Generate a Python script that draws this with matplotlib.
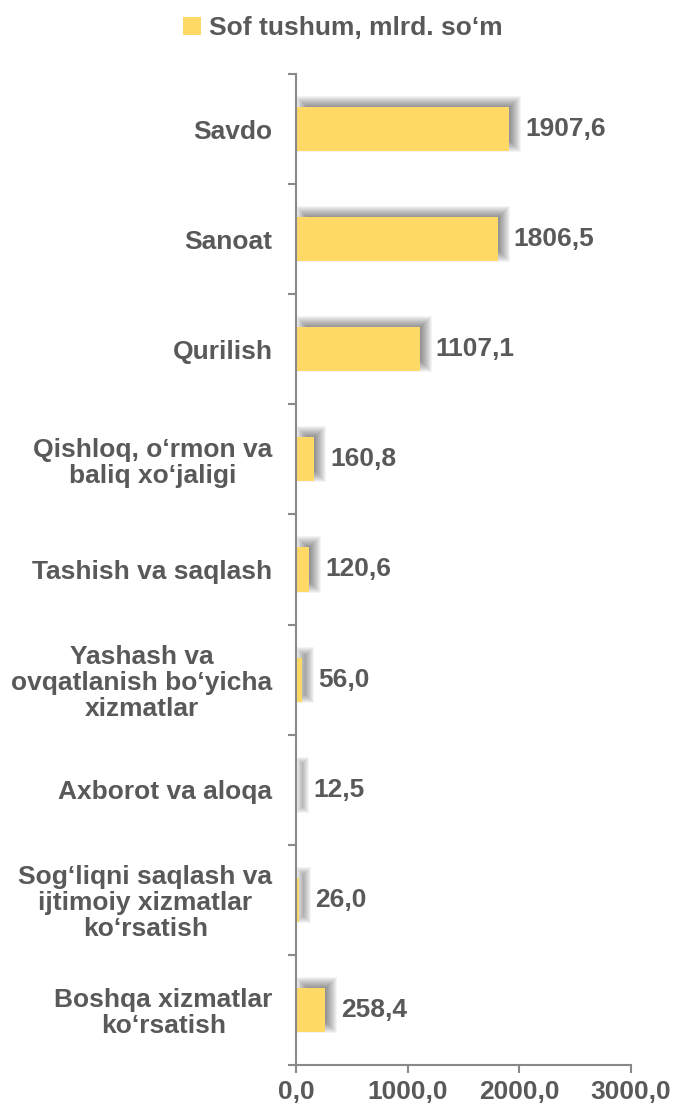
import matplotlib
matplotlib.use("Agg")
import matplotlib.pyplot as plt
from matplotlib.patches import Rectangle, Patch
from matplotlib.ticker import FixedLocator, FuncFormatter

categories = [
    "Savdo",
    "Sanoat",
    "Qurilish",
    "Qishloq, o\u2018rmon va\nbaliq xo\u2018jaligi",
    "Tashish va saqlash",
    "Yashash va\novqatlanish bo\u2018yicha\nxizmatlar",
    "Axborot va aloqa",
    "Sog\u2018liqni saqlash va\nijtimoiy xizmatlar\nko\u2018rsatish",
    "Boshqa xizmatlar\nko\u2018rsatish",
]
values = [1907.6, 1806.5, 1107.1, 160.8, 120.6, 56.0, 12.5, 26.0, 258.4]
value_labels = ["1907,6", "1806,5", "1107,1", "160,8", "120,6", "56,0", "12,5", "26,0", "258,4"]
xticks = [0, 1000, 2000, 3000]
legend_label = "Sof tushum, mlrd. so\u2018m"

BAR = "#FFD966"
TXT = "#595959"
AX = "#898989"
FONT = "Liberation Sans"

W, H = 675, 1110
fig = plt.figure(figsize=(W / 100, H / 100), dpi=100)
left, right, top, bottom = 296, 631, 74, 1065
ax = fig.add_axes([left / W, 1 - bottom / H, (right - left) / W, (bottom - top) / H])

n = len(categories)
ax.set_xlim(0, 3000)
ax.set_ylim(n - 0.5, -0.5)

bh = 0.4
px_x = 3000 / (right - left)
px_y = n / (bottom - top)

# soft blurred shadows (offset right/up)
sdx, sdy = 6, 5
for i, v in enumerate(values):
    for e in range(-6, 7):
        x0 = sdx * px_x - e * px_x
        w = v + 2 * e * px_x
        y0 = i - bh / 2 - sdy * px_y - e * px_y
        h = bh + 2 * e * px_y
        if w <= 0 or h <= 0:
            continue
        ax.add_patch(Rectangle((x0, y0), w, h, facecolor="black", edgecolor="none",
                               alpha=0.042, zorder=1, clip_on=False, antialiased=True))

ax.barh(range(n), values, height=bh, color=BAR, zorder=2)

for i, (v, lab) in enumerate(zip(values, value_labels)):
    ax.annotate(lab, (v, i), xytext=(11.5, 0), textcoords="offset points",
                ha="left", va="center", fontsize=19, fontweight="bold",
                color=TXT, family=FONT, zorder=3)

for s in ["top", "right"]:
    ax.spines[s].set_visible(False)
for s in ["left", "bottom"]:
    ax.spines[s].set_color(AX)
    ax.spines[s].set_linewidth(1.5)

ax.yaxis.set_major_locator(FixedLocator([k - 0.5 for k in range(n + 1)]))
ax.yaxis.set_major_formatter(FuncFormatter(lambda v, p: ""))
ax.set_yticks(list(range(n)), minor=True)
ax.set_yticklabels(categories, minor=True, fontsize=19, fontweight="bold",
                   color=TXT, family=FONT)
for lbl in ax.get_yticklabels(minor=True):
    lbl.set_multialignment("center")
    lbl.set_linespacing(1.1)
ax.tick_params(axis="y", which="major", length=6, width=1.5, color=AX, direction="out")
ax.tick_params(axis="y", which="minor", length=0, pad=17)

ax.set_xticks(xticks)
ax.set_xticklabels([f"{t:.1f}".replace(".", ",") for t in xticks], fontsize=19,
                   fontweight="bold", color=TXT, family=FONT)
ax.tick_params(axis="x", length=6, width=1.5, color=AX, direction="out", pad=5)

fig.legend(handles=[Patch(facecolor=BAR, edgecolor="none")], labels=[legend_label],
           loc="center", bbox_to_anchor=(343 / W, 1 - 28 / H), frameon=False,
           handlelength=0.7, handleheight=0.7, handletextpad=0.3,
           prop={"family": FONT, "weight": "bold", "size": 19}, labelcolor=TXT)

fig.savefig("out.png", dpi=100, facecolor="white")
